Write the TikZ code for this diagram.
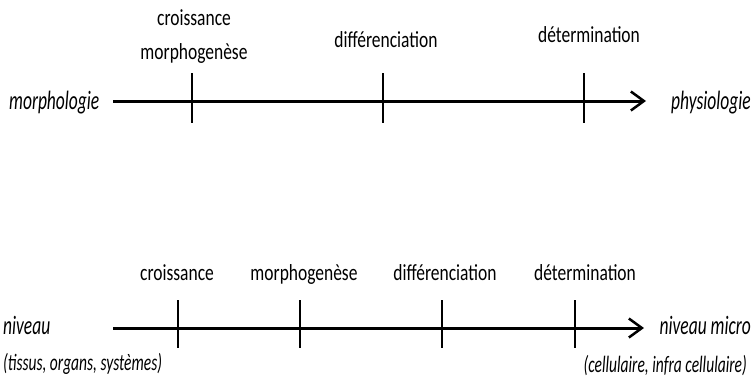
\documentclass[tikz,border=0pt]{standalone}
\usepackage{fontspec}
\setmainfont{Carlito}[FakeStretch=0.76]
\newfontfamily\sidefont{Carlito}[FakeStretch=0.66]
\usetikzlibrary{arrows.meta}

\begin{document}
\begin{tikzpicture}[x=1pt, y=-1pt,
      type-stage/.style={anchor=base, inner sep=0pt, font=\fontsize{23}{27}\selectfont},
      type-end/.style={anchor=base west, inner sep=0pt, font=\sidefont\itshape\fontsize{26.5}{30}\selectfont},
      type-scale/.style={anchor=base west, inner sep=0pt, font=\sidefont\itshape\fontsize{23.5}{27}\selectfont},
      type-axis/.style={line width=3pt, -{Straight Barb[length=13pt,width=19pt,line width=2.5pt]}},
      type-tick/.style={line width=2pt}
    ]
      \useasboundingbox (0,0) rectangle (753,381);

      % first axis
      \coordinate (top-start) at (113,101);
      \coordinate (top-end) at (646,101);
      \node[type-end] (morphologie) at (9,109) {morphologie};
      \node[type-end, anchor=base east] (physiologie) at (751,109) {physiologie};
      \draw[type-axis] (top-start) -- (top-end);
      \draw[type-tick] (192,73) -- (192,123);
      \draw[type-tick] (383,73) -- (383,123);
      \draw[type-tick] (584,73) -- (584,123);
      \node[type-stage] (croissance-top) at (194,25) {croissance};
      \node[type-stage] (morphogenese-top) at (194,59) {morphogenèse};
      \node[type-stage] (differenciation-top) at (386,47) {différenciation};
      \node[type-stage] (determination-top) at (589,42) {détermination};

      % second axis
      \coordinate (bottom-start) at (113,328);
      \coordinate (bottom-end) at (644,328);
      \node[type-end] (niveau) at (3,334) {niveau};
      \node[type-end, anchor=base east] (niveau-micro) at (751,334) {niveau micro};
      \node[type-scale] (tissus) at (3,370) {(tissus, organs, systèmes)};
      \node[type-scale, anchor=base east] (cellulaire) at (747,372) {(cellulaire, infra cellulaire)};
      \draw[type-axis] (bottom-start) -- (bottom-end);
      \draw[type-tick] (178,300) -- (178,348);
      \draw[type-tick] (300,300) -- (300,348);
      \draw[type-tick] (442,300) -- (442,348);
      \draw[type-tick] (575,300) -- (575,348);
      \node[type-stage] (croissance-bottom) at (177,280) {croissance};
      \node[type-stage] (morphogenese-bottom) at (304,280) {morphogenèse};
      \node[type-stage] (differenciation-bottom) at (445,280) {différenciation};
      \node[type-stage] (determination-bottom) at (585,280) {détermination};
    \end{tikzpicture}
\end{document}
